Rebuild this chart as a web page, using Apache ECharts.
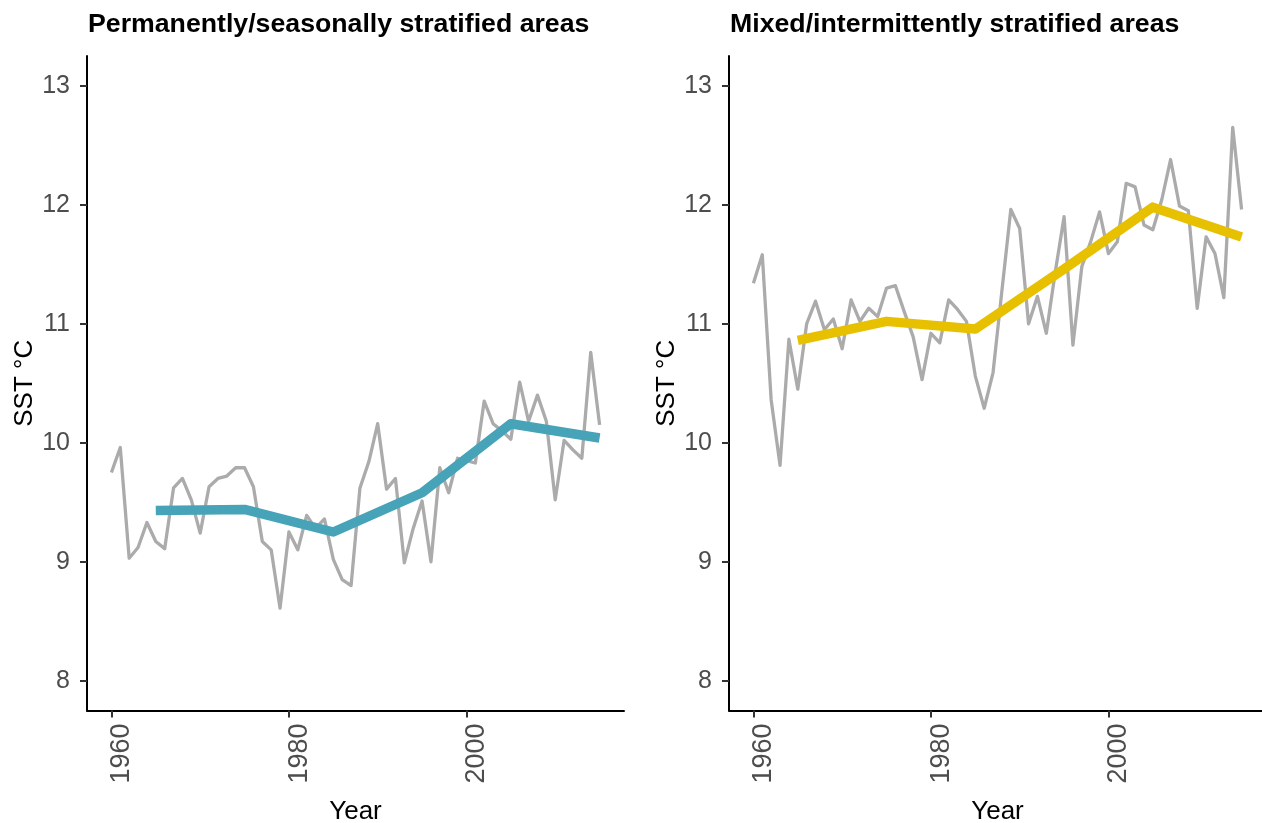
<!DOCTYPE html>
<html>
<head>
<meta charset="utf-8">
<script src="https://cdn.jsdelivr.net/npm/echarts@6/dist/echarts.min.js"></script>
<style>
  html, body { margin: 0; padding: 0; background: #fff; }
  #chart { width: 1262px; height: 823px; }
</style>
</head>
<body>
<div id="chart"></div>
<script>
// Annual sea surface temperature (°C) by stratification regime, with decadal trend
const years = [1960, 1961, 1962, 1963, 1964, 1965, 1966, 1967, 1968, 1969,
               1970, 1971, 1972, 1973, 1974, 1975, 1976, 1977, 1978, 1979,
               1980, 1981, 1982, 1983, 1984, 1985, 1986, 1987, 1988, 1989,
               1990, 1991, 1992, 1993, 1994, 1995, 1996, 1997, 1998, 1999,
               2000, 2001, 2002, 2003, 2004, 2005, 2006, 2007, 2008, 2009,
               2010, 2011, 2012, 2013, 2014, 2015];

const stratifiedSST = [9.75, 9.96, 9.03, 9.12, 9.33, 9.17, 9.11, 9.62, 9.70, 9.52,
                       9.24, 9.63, 9.70, 9.72, 9.79, 9.79, 9.63, 9.17, 9.10, 8.61,
                       9.25, 9.10, 9.39, 9.28, 9.36, 9.02, 8.85, 8.80, 9.62, 9.84,
                       10.16, 9.61, 9.70, 8.99, 9.28, 9.51, 9.00, 9.79, 9.58, 9.87,
                       9.85, 9.83, 10.35, 10.16, 10.10, 10.03, 10.51, 10.18, 10.40, 10.18,
                       9.52, 10.02, 9.94, 9.87, 10.76, 10.15];

const mixedSST = [11.34, 11.58, 10.36, 9.81, 10.87, 10.45, 11.00, 11.19, 10.95, 11.04,
                  10.79, 11.20, 11.02, 11.13, 11.06, 11.30, 11.32, 11.10, 10.89, 10.53,
                  10.92, 10.84, 11.20, 11.12, 11.02, 10.56, 10.29, 10.59, 11.28, 11.96,
                  11.80, 11.00, 11.23, 10.92, 11.43, 11.90, 10.82, 11.48, 11.69, 11.94,
                  11.59, 11.69, 12.18, 12.15, 11.83, 11.79, 12.04, 12.38, 11.99, 11.95,
                  11.13, 11.73, 11.59, 11.22, 12.65, 11.96];

// Decadal mean points
const trendYears = [1965, 1975, 1985, 1995, 2005, 2015];
const stratifiedTrend = [9.43, 9.44, 9.25, 9.58, 10.16, 10.04];
const mixedTrend = [10.86, 11.02, 10.955, 11.46, 11.98, 11.73];

// Axis ticks and panel titles
const xTicks = [1960, 1980, 2000];
const yTicks = [8, 9, 10, 11, 12, 13];
const panelTitles = ['Permanently/seasonally stratified areas', 'Mixed/intermittently stratified areas'];

const FONT = 'Arial, "Liberation Sans", sans-serif';
const pair = (xs, ys) => xs.map((x, i) => [x, ys[i]]);

const gridTop = 56, gridH = 654.5, gridW = 537;
const gridLefts = [87, 729];

function xAxisFor(idx) {
  return {
    type: 'value', gridIndex: idx, min: 1957.25, max: 2017.75,
    name: 'Year', nameLocation: 'middle', nameGap: 88,
    nameTextStyle: { fontFamily: FONT, fontSize: 26, color: '#000' },
    splitLine: { show: false },
    axisLine: { show: true, onZero: false, lineStyle: { color: '#000', width: 2 } },
    axisTick: { show: true, length: 7, customValues: xTicks, lineStyle: { color: '#333', width: 2 } },
    axisLabel: {
      customValues: xTicks, rotate: 90, margin: 13,
      verticalAlign: 'top', lineHeight: 21,
      fontFamily: FONT, fontSize: 27, color: '#4D4D4D',
      formatter: v => String(v)
    }
  };
}

function yAxisFor(idx) {
  return {
    type: 'value', gridIndex: idx, min: 7.75, max: 13.25,
    name: 'SST °C', nameLocation: 'middle', nameGap: 49,
    nameTextStyle: { fontFamily: FONT, fontSize: 26, color: '#000' },
    splitLine: { show: false },
    axisLine: { show: true, onZero: false, lineStyle: { color: '#000', width: 2 } },
    axisTick: { show: true, length: 7, customValues: yTicks, lineStyle: { color: '#333', width: 2 } },
    axisLabel: {
      customValues: yTicks, margin: 17,
      fontFamily: FONT, fontSize: 25, color: '#4D4D4D',
      formatter: v => String(v)
    }
  };
}

function rawSeries(idx, values) {
  return {
    type: 'line', xAxisIndex: idx, yAxisIndex: idx,
    data: pair(years, values), showSymbol: false, silent: true,
    lineStyle: { color: '#ABABAB', width: 3.3, join: 'round' }, z: 2
  };
}

function trendSeries(idx, values, color) {
  return {
    type: 'line', xAxisIndex: idx, yAxisIndex: idx,
    data: pair(trendYears, values), showSymbol: false, silent: true,
    lineStyle: { color: color, width: 9.5, join: 'round', cap: 'butt' }, z: 3
  };
}

const chart = echarts.init(document.getElementById('chart'), null, { renderer: 'canvas' });
chart.setOption({
  backgroundColor: '#fff',
  animation: false,
  title: panelTitles.map((t, i) => ({
    text: t, left: gridLefts[i] + 1, top: 11, padding: 0,
    textStyle: { fontFamily: FONT, fontSize: 26.7, fontWeight: 'bold', color: '#000' }
  })),
  grid: gridLefts.map(l => ({
    left: l, top: gridTop, width: gridW, height: gridH,
    outerBoundsMode: 'none', containLabel: false
  })),
  xAxis: [xAxisFor(0), xAxisFor(1)],
  yAxis: [yAxisFor(0), yAxisFor(1)],
  series: [
    rawSeries(0, stratifiedSST),
    trendSeries(0, stratifiedTrend, '#47A3B7'),
    rawSeries(1, mixedSST),
    trendSeries(1, mixedTrend, '#E7C000')
  ]
});
</script>
</body>
</html>
